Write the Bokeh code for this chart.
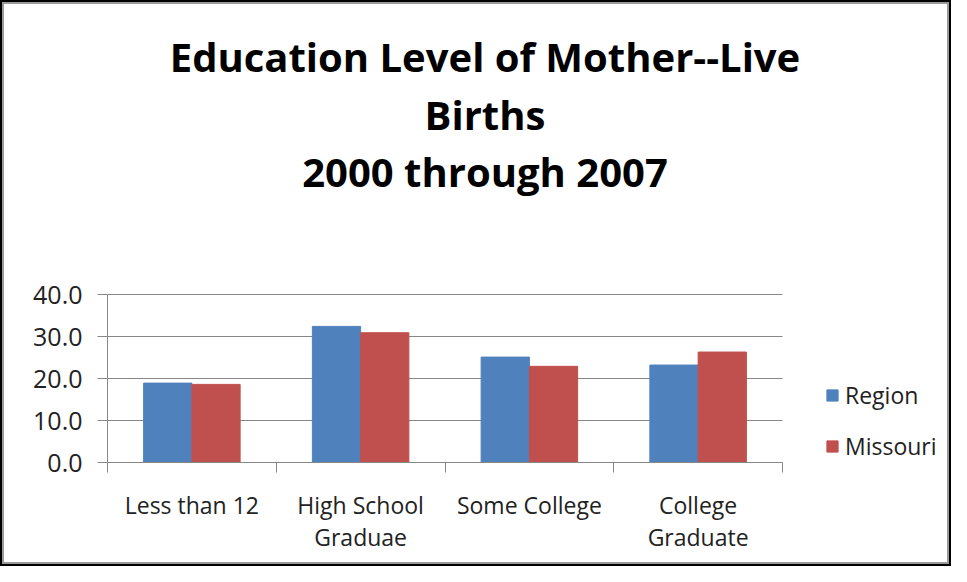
from bokeh.plotting import figure
from bokeh.models import (Range1d, FixedTicker, LinearAxis, NumeralTickFormatter,
                          ColumnDataSource, Label, Legend, LegendItem)
from bokeh.transform import dodge
from bokeh.embed import file_html
from bokeh.resources import INLINE
import numpy as np

# ---- data ----
categories = ["Less than 12", "High School\nGraduae", "Some College", "College\nGraduate"]
region = [18.9, 32.4, 25.1, 23.2]
missouri = [18.6, 30.9, 22.9, 26.3]
series_names = ["Region", "Missouri"]
y_ticks = [0, 10, 20, 30, 40]
title_lines = ["Education Level of Mother--Live", "Births", "2000 through 2007"]

BLUE = "#4F81BD"
RED = "#C0504D"
GRID = "#878787"
FONT = "Open Sans"
TXT = "#222222"

# ---- layout (pixels) ----
W, H = 951, 566
AX_L, AX_R, AX_T, AX_B = 107, 782, 294, 462      # plotting area of the bars
FR_L, FR_R, FR_T, FR_B = 107, 946, 5, 462        # bokeh frame (larger, holds title & legend)

ncat = len(categories)
ymax = max(y_ticks)
px_x = (AX_R - AX_L) / ncat
px_y = (AX_B - AX_T) / ymax
x_end = ncat + (FR_R - AX_R) / px_x
y_end = ymax + (AX_T - FR_T) / px_y

xc = np.arange(ncat) + 0.5
src = ColumnDataSource(dict(x=xc, region=region, missouri=missouri))

p = figure(width=W, height=H, output_backend="svg", toolbar_location=None,
           x_range=Range1d(0, x_end), y_range=Range1d(0, y_end),
           x_axis_type=None, y_axis_type=None,
           min_border_left=FR_L, min_border_right=W - FR_R,
           min_border_top=FR_T, min_border_bottom=H - FR_B)
p.outline_line_color = None
p.background_fill_color = None
p.border_fill_color = None
p.xgrid.visible = False
p.ygrid.visible = False
p.styles = {"background-color": "white",
            "box-shadow": "inset 0 0 0 2px black, inset 0 0 0 4px #9a9a9a"}

# gridlines at the y ticks, across the category span only
p.segment(x0=[0] * len(y_ticks), x1=[ncat] * len(y_ticks), y0=y_ticks, y1=y_ticks,
          line_color=GRID, line_width=1)

bw = 0.286
r1 = p.vbar(x=dodge("x", -bw / 2), top="region", width=bw, source=src,
            fill_color=BLUE, line_color=BLUE)
r2 = p.vbar(x=dodge("x", bw / 2), top="missouri", width=bw, source=src,
            fill_color=RED, line_color=RED)

# y axis
yaxis = LinearAxis(ticker=FixedTicker(ticks=y_ticks, minor_ticks=[]),
                   formatter=NumeralTickFormatter(format="0.0"), bounds=(0, ymax))
yaxis.axis_line_color = GRID
yaxis.major_tick_line_color = GRID
yaxis.major_tick_in = 0
yaxis.major_tick_out = 10
yaxis.minor_tick_line_color = None
yaxis.major_label_standoff = 15
yaxis.major_label_text_font = FONT
yaxis.major_label_text_font_size = "25px"
yaxis.major_label_text_color = TXT
p.add_layout(yaxis, "left")

# x axis: labels at category centers, tick marks at boundaries (minor ticks)
bounds = list(np.arange(ncat + 1))
xaxis = LinearAxis(ticker=FixedTicker(ticks=list(xc), minor_ticks=bounds), bounds=(0, ncat))
xaxis.major_label_overrides = {float(v): c for v, c in zip(xc, categories)}
xaxis.axis_line_color = GRID
xaxis.major_tick_line_color = None
xaxis.major_tick_in = 0
xaxis.major_tick_out = 0
xaxis.minor_tick_line_color = GRID
xaxis.minor_tick_in = 0
xaxis.minor_tick_out = 10
xaxis.major_label_standoff = 16
xaxis.major_label_text_font = FONT
xaxis.major_label_text_font_size = "23px"
xaxis.major_label_text_color = TXT
xaxis.major_label_text_line_height = 1.0
p.add_layout(xaxis, "below")

# title (screen coords relative to frame bottom-left)
title_cx = 484.5 - FR_L
title_baselines = [56, 114, 171]
for t, yb in zip(title_lines, title_baselines):
    p.add_layout(Label(x=title_cx, y=FR_B - yb, x_units="screen", y_units="screen", text=t,
                       text_align="center", text_baseline="alphabetic",
                       text_font=FONT, text_font_style="bold",
                       text_font_size="40px", text_color="black"))

legend = Legend(items=[LegendItem(label=series_names[0], renderers=[r1]),
                       LegendItem(label=series_names[1], renderers=[r2])],
                location=(825 - FR_L, 0), orientation="vertical")
legend.glyph_width = 14
legend.glyph_height = 14
legend.label_height = 30
legend.spacing = 19
legend.padding = 0
legend.margin = 0
legend.label_standoff = 6
legend.label_text_font = FONT
legend.label_text_font_size = "23px"
legend.label_text_color = TXT
legend.border_line_color = None
legend.background_fill_alpha = 0
p.add_layout(legend)

open("out.html", "w").write(file_html(p, INLINE))
